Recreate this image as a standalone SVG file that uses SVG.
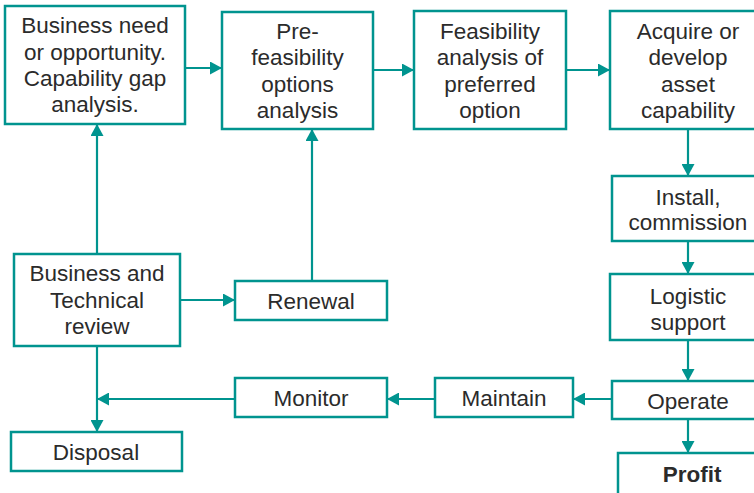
<svg xmlns="http://www.w3.org/2000/svg" width="754" height="493" viewBox="0 0 754 493">
<defs>
<marker id="ah" markerUnits="userSpaceOnUse" markerWidth="12" markerHeight="13" refX="12" refY="6.5" orient="auto">
<path d="M0,0 L12,6.5 L0,13 z" fill="#00948f"/>
</marker>
<style>
.box{fill:#fff;stroke:#00948f;stroke-width:2.5}
.t{font-family:"Liberation Sans",Arial,sans-serif;font-size:22.5px;fill:#2b2b2b;text-anchor:middle}
.b{font-weight:bold}
.c{fill:none;stroke:#00948f;stroke-width:2.2;marker-end:url(#ah)}
</style>
</defs>
<rect width="754" height="493" fill="#fff"/>
<g id="connectors">
<path class="c" d="M185,68 L222,68"/>
<path class="c" d="M373,70 L414,70"/>
<path class="c" d="M566,70 L610,70"/>
<path class="c" d="M688,129 L688,176"/>
<path class="c" d="M688,241 L688,274"/>
<path class="c" d="M688,340 L688,381"/>
<path class="c" d="M688,419 L688,453"/>
<path class="c" d="M612,399 L573,399"/>
<path class="c" d="M435,399 L387,399"/>
<path class="c" d="M235,399 L97,399"/>
<path class="c" d="M97,346 L97,432"/>
<path class="c" d="M97,254 L97,124"/>
<path class="c" d="M180,300 L235,300"/>
<path class="c" d="M312,281 L312,129"/>
</g>
<g id="need">
<rect class="box" x="5" y="6" width="180" height="118"/>
<text class="t" x="95" y="33">Business need</text>
<text class="t" x="95" y="60">or opportunity.</text>
<text class="t" x="95" y="86">Capability gap</text>
<text class="t" x="95" y="112">analysis.</text>
</g>
<g id="prefeas">
<rect class="box" x="222" y="12" width="151" height="117"/>
<text class="t" x="297.5" y="39">Pre-</text>
<text class="t" x="297.5" y="65">feasibility</text>
<text class="t" x="297.5" y="92">options</text>
<text class="t" x="297.5" y="118">analysis</text>
</g>
<g id="feas">
<rect class="box" x="414" y="11" width="152" height="118"/>
<text class="t" x="490" y="39">Feasibility</text>
<text class="t" x="490" y="65">analysis of</text>
<text class="t" x="490" y="92">preferred</text>
<text class="t" x="490" y="118">option</text>
</g>
<g id="acquire">
<rect class="box" x="610" y="11" width="156" height="118"/>
<text class="t" x="688" y="39">Acquire or</text>
<text class="t" x="688" y="65">develop</text>
<text class="t" x="688" y="92">asset</text>
<text class="t" x="688" y="118">capability</text>
</g>
<g id="install">
<rect class="box" x="612" y="176" width="154" height="65"/>
<text class="t" x="688" y="205">Install,</text>
<text class="t" x="688" y="230">commission</text>
</g>
<g id="logistic">
<rect class="box" x="610" y="274" width="156" height="66"/>
<text class="t" x="688" y="304">Logistic</text>
<text class="t" x="688" y="330">support</text>
</g>
<g id="operate">
<rect class="box" x="612" y="381" width="154" height="38"/>
<text class="t" x="688" y="409">Operate</text>
</g>
<g id="profit">
<rect class="box" x="618" y="453" width="148" height="42"/>
<text class="t b" x="692" y="482">Profit</text>
</g>
<g id="maintain">
<rect class="box" x="435" y="378" width="138" height="39"/>
<text class="t" x="504" y="406">Maintain</text>
</g>
<g id="monitor">
<rect class="box" x="235" y="378" width="152" height="39"/>
<text class="t" x="311" y="406">Monitor</text>
</g>
<g id="review">
<rect class="box" x="14" y="254" width="166" height="92"/>
<text class="t" x="97" y="281">Business and</text>
<text class="t" x="97" y="308">Technical</text>
<text class="t" x="97" y="334">review</text>
</g>
<g id="renewal">
<rect class="box" x="235" y="281" width="152" height="39"/>
<text class="t" x="311" y="309">Renewal</text>
</g>
<g id="disposal">
<rect class="box" x="11" y="432" width="171" height="39"/>
<text class="t" x="96" y="460">Disposal</text>
</g>
</svg>
